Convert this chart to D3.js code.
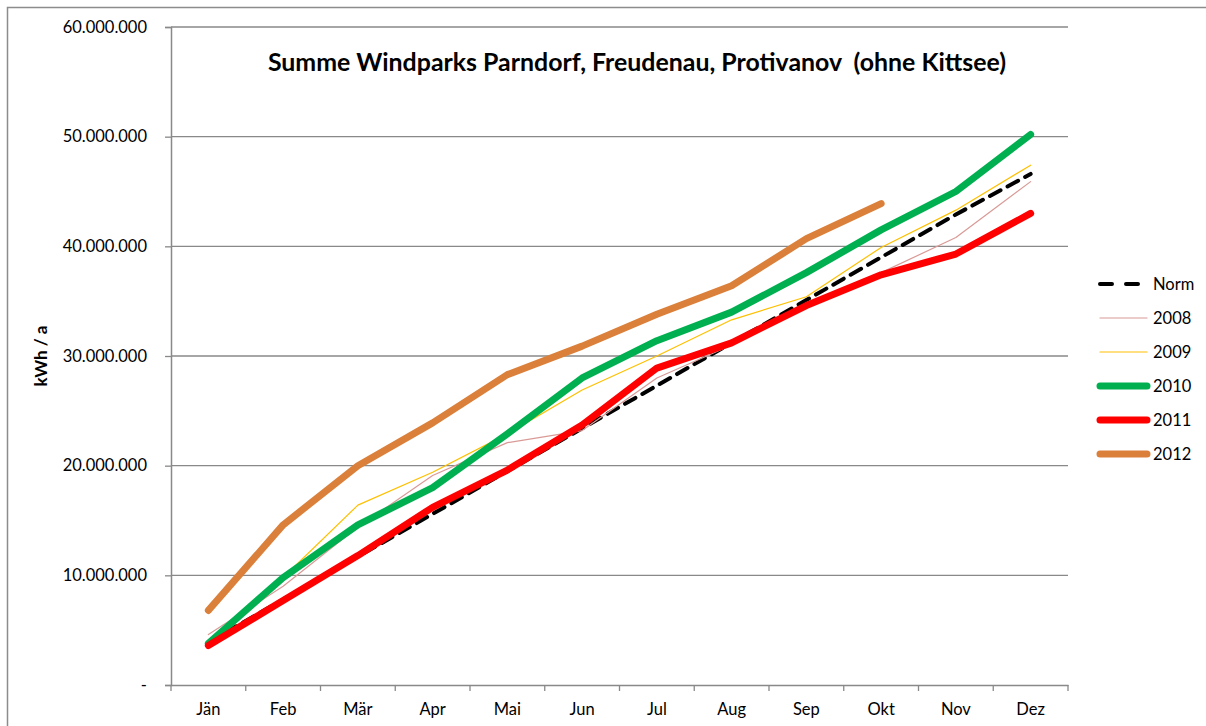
<!DOCTYPE html>
<html><head><meta charset="utf-8">
<script src="https://cdn.jsdelivr.net/npm/d3@7"></script>
<style>body{margin:0;background:#fff;} svg{display:block;}</style>
</head><body>
<script>
const months = ["Jän","Feb","Mär","Apr","Mai","Jun","Jul","Aug","Sep","Okt","Nov","Dez"];
const yTicks = [0,10000000,20000000,30000000,40000000,50000000,60000000];
const norm  = [3.9,7.8,11.7,15.6,19.5,23.4,27.3,31.2,35.1,39.0,42.9,46.6].map(v=>v*1e6);
const y2008 = [4.6,9.0,14.4,19.1,22.1,23.2,28.0,31.0,34.6,37.6,40.8,45.9].map(v=>v*1e6);
const y2009 = [3.9,9.8,16.4,19.4,22.9,26.9,30.0,33.3,35.4,39.9,43.3,47.4].map(v=>v*1e6);
const y2010 = [3.8,9.8,14.6,18.0,22.9,28.0,31.4,34.0,37.6,41.5,45.0,50.2].map(v=>v*1e6);
const y2011 = [3.6,7.7,11.8,16.2,19.6,23.7,28.9,31.2,34.6,37.4,39.3,43.0].map(v=>v*1e6);
const y2012 = [6.8,14.6,20.0,23.9,28.3,30.9,33.8,36.4,40.7,43.9].map(v=>v*1e6);
const seriesNames = ["Norm","2008","2009","2010","2011","2012"];
const title = "Summe Windparks Parndorf, Freudenau, Protivanov  (ohne Kittsee)";
const yLabel = "kWh / a";

const series = [
  {name:"Norm", values:norm,  color:"#000000", width:4, dash:"12,8"},
  {name:"2008", values:y2008, color:"#D99A96", width:1.2},
  {name:"2009", values:y2009, color:"#FFC000", width:1.2},
  {name:"2010", values:y2010, color:"#00B050", width:7},
  {name:"2011", values:y2011, color:"#FF0000", width:7},
  {name:"2012", values:y2012, color:"#DB803A", width:7}
];
const drawOrder = ["Norm","2008","2009","2010","2011","2012"];

const W=1206,H=726;
const svg=d3.select("body").append("svg").attr("width",W).attr("height",H);
const FONT="Lato, 'Open Sans', sans-serif";
svg.append("rect").attr("x",7.5).attr("y",7.5).attr("width",W).attr("height",H).attr("fill","#fff").attr("stroke","#8c8c8c").attr("stroke-width",1.5);

const pL=171,pR=1068,pT=27,pB=685;
const x=d3.scaleBand().domain(months).range([pL,pR]);
const y=d3.scaleLinear().domain([0,60000000]).range([pB,pT]);
const gridColor="#898989";

svg.append("g").selectAll("line").data(yTicks.filter(d=>d>0)).join("line")
  .attr("x1",pL).attr("x2",pR).attr("y1",d=>y(d)).attr("y2",d=>y(d))
  .attr("stroke",gridColor).attr("stroke-width",1.3);

const fmt = d => d===0 ? "-" : d3.format(",")(d).replace(/,/g,".");
const yAxis=svg.append("g").attr("transform",`translate(${pL},0)`)
  .call(d3.axisLeft(y).tickValues(yTicks).tickSize(6).tickPadding(18).tickFormat(fmt));
yAxis.select(".domain").attr("stroke",gridColor).attr("stroke-width",1.5);
yAxis.selectAll(".tick line").attr("stroke",gridColor).attr("stroke-width",1.3);
yAxis.selectAll("text").attr("font-family",FONT).attr("font-size",16.5).attr("fill","#000");

const xAxis=svg.append("g").attr("transform",`translate(0,${pB})`)
  .call(d3.axisBottom(x).tickSize(0).tickPadding(18));
xAxis.select(".domain").attr("stroke",gridColor).attr("stroke-width",1.5);
xAxis.selectAll("text").attr("font-family",FONT).attr("font-size",16.5).attr("fill","#000");
const bnd=d3.range(months.length+1).map(i=>pL+i*x.step());
svg.append("g").selectAll("line").data(bnd).join("line")
  .attr("x1",d=>d).attr("x2",d=>d).attr("y1",pB).attr("y2",pB+6)
  .attr("stroke",gridColor).attr("stroke-width",1.3);

const line=d3.line().x((d,i)=>x(months[i])+x.bandwidth()/2).y(d=>y(d));
const byName=Object.fromEntries(series.map(s=>[s.name,s]));
drawOrder.forEach(n=>{
  const s=byName[n];
  svg.append("path").datum(s.values).attr("d",line).attr("fill","none")
    .attr("stroke",s.color).attr("stroke-width",s.width)
    .attr("stroke-linecap","round").attr("stroke-linejoin","round")
    .attr("stroke-dasharray",s.dash||null);
});

svg.append("text").attr("x",637).attr("y",71).attr("text-anchor","middle")
  .style("white-space","pre")
  .attr("font-family",FONT).attr("font-weight","bold").attr("font-size",24.9).text(title);
svg.append("text").attr("transform","translate(47,356) rotate(-90)").attr("text-anchor","middle")
  .attr("font-family",FONT).attr("font-weight","bold").attr("font-size",17).text(yLabel);

const lg=svg.append("g");
seriesNames.forEach((n,i)=>{
  const s=byName[n]; const yy=284+i*34;
  lg.append("line").attr("x1",1100).attr("x2",1147).attr("y1",yy).attr("y2",yy)
    .attr("stroke",s.color).attr("stroke-width",s.width)
    .attr("stroke-linecap","round").attr("stroke-dasharray",s.dash?"12,14":null);
  lg.append("text").attr("x",1153).attr("y",yy+5.5).attr("font-family",FONT).attr("font-size",16.5).text(n);
});
</script>
</body></html>
